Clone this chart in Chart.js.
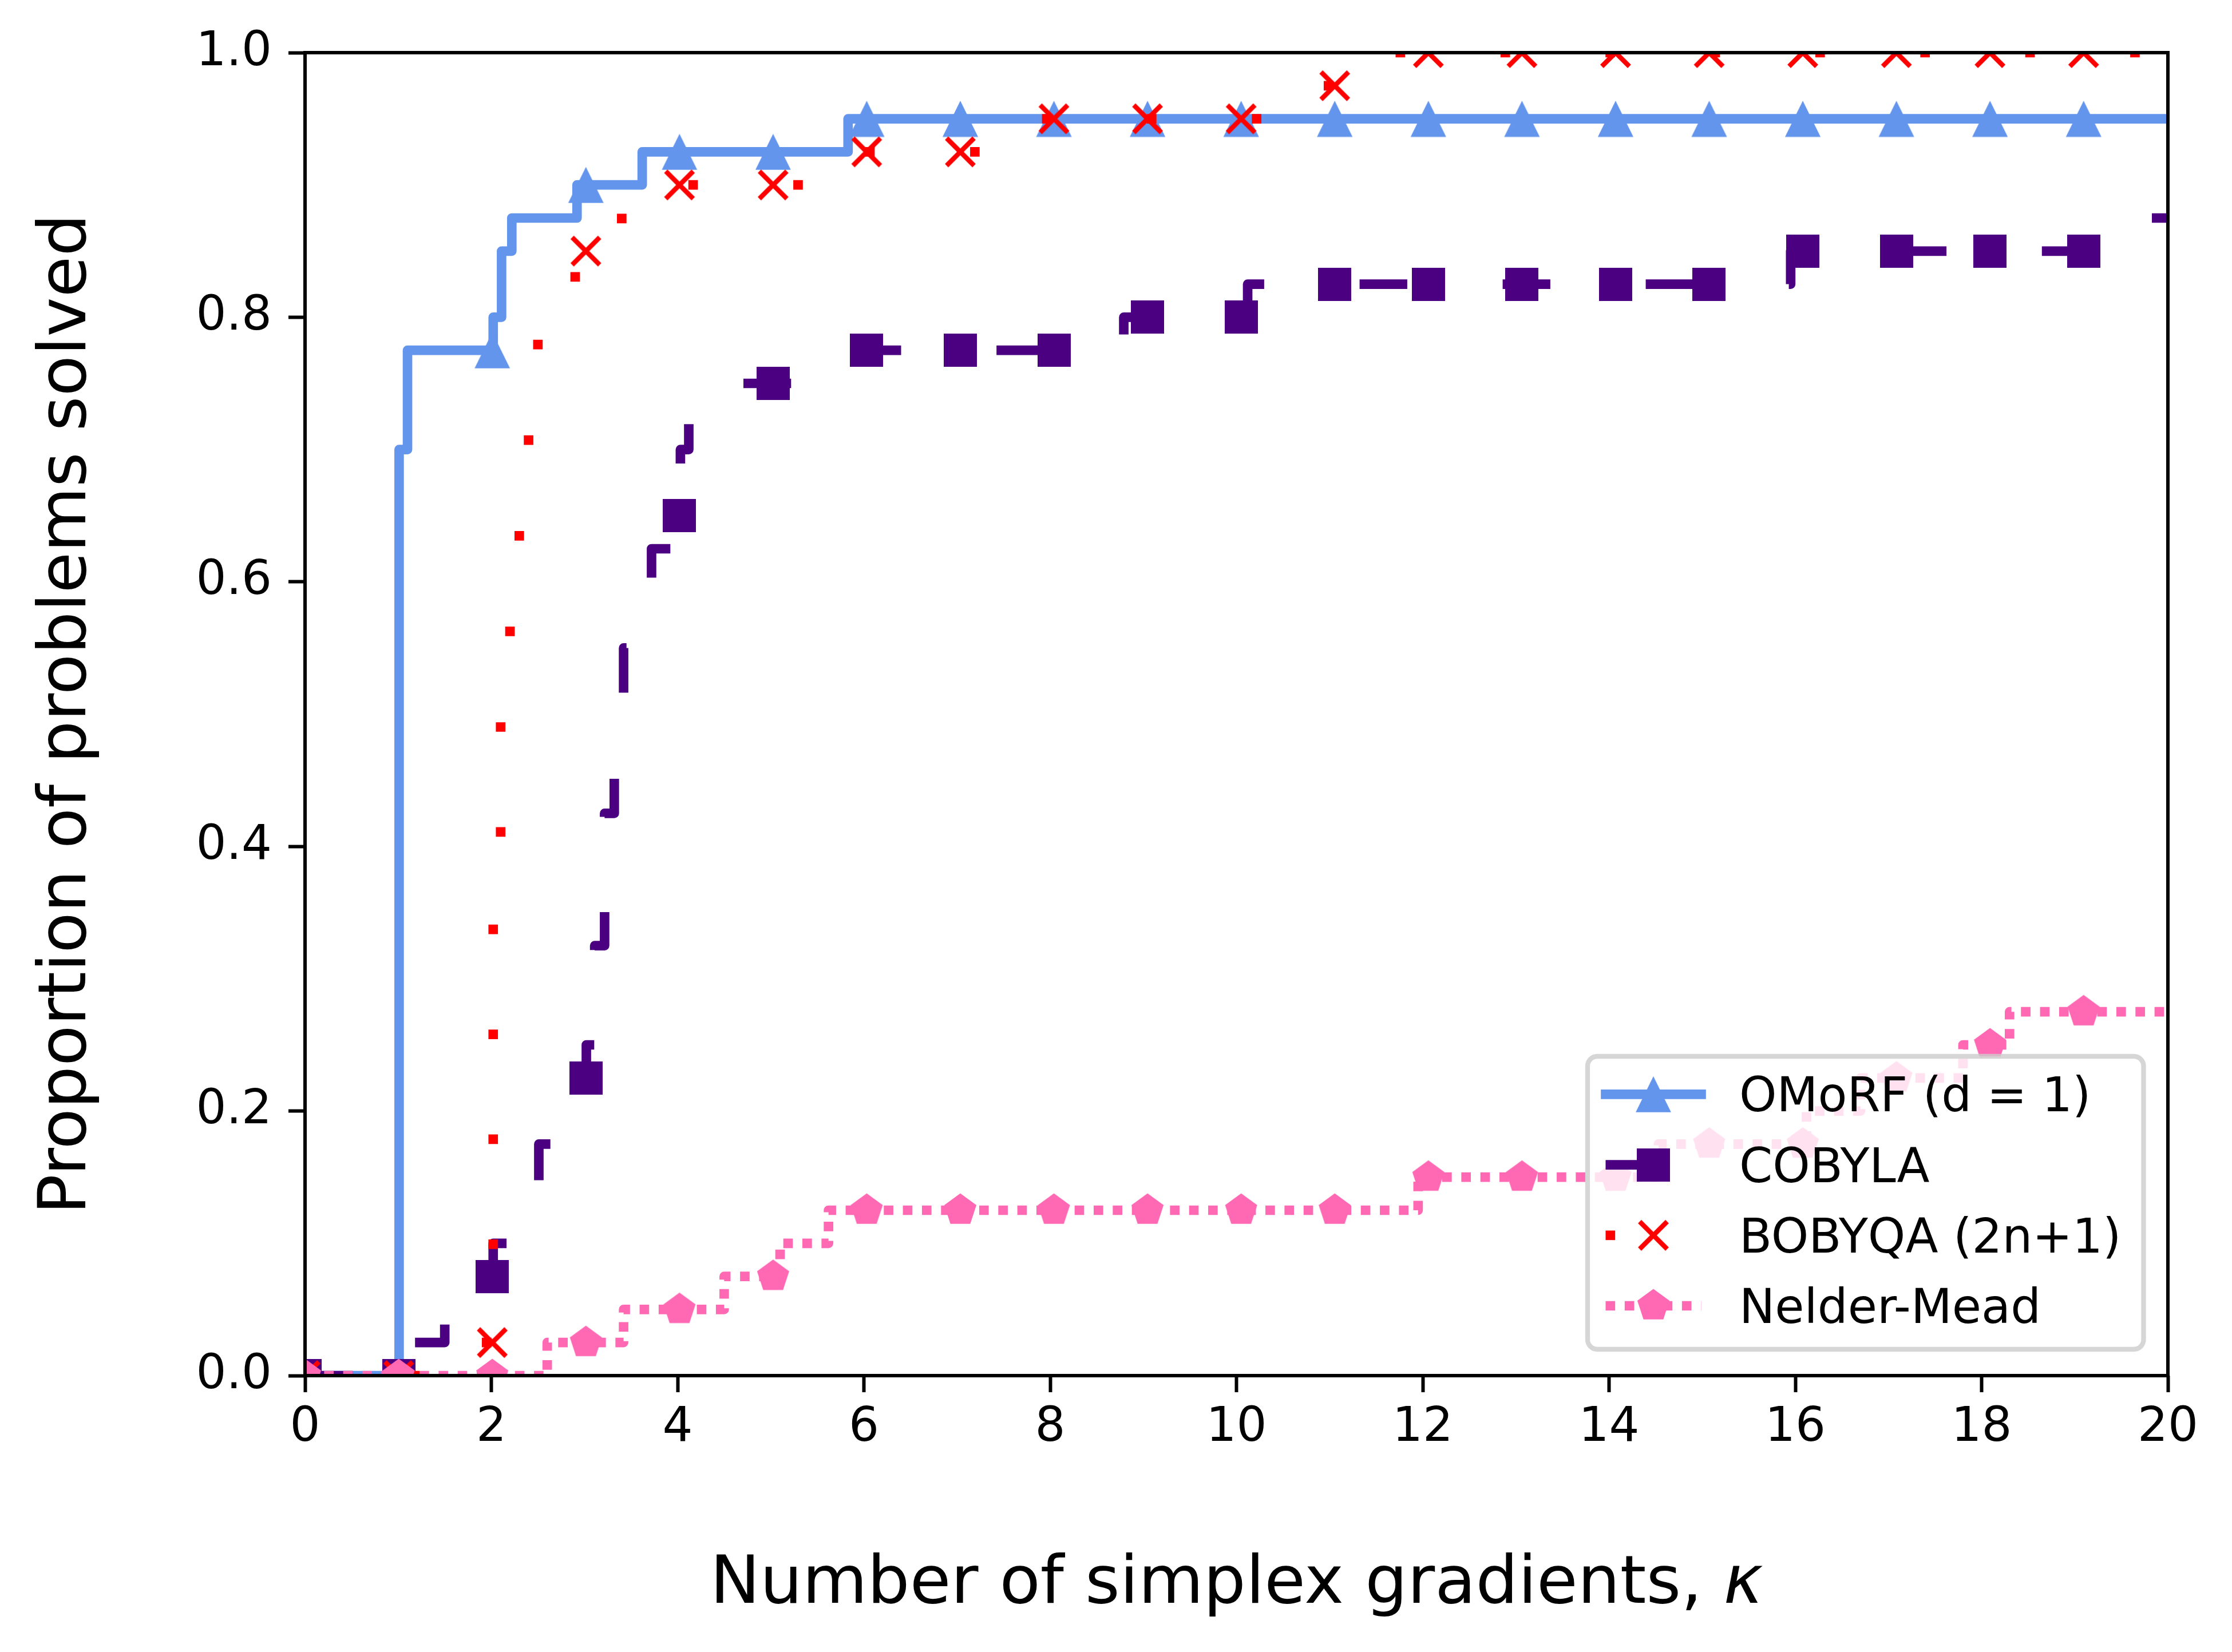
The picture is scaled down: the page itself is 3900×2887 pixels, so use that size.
<!DOCTYPE html>
<html>
<head>
<meta charset="utf-8">
<script src="https://cdn.jsdelivr.net/npm/chart.js@4.4.1/dist/chart.umd.min.js"></script>
<style>
  html, body { margin: 0; padding: 0; background: #fff; }
  #wrap { width: 3900px; height: 2887px; }
</style>
</head>
<body>
<div id="wrap"><canvas id="myChart" width="3900" height="2887"></canvas></div>
<script>
// kappa values where markers sit (measured: spacing is slightly above 1)
const kappaMarks = [0, 1.005, 2.01, 3.015, 4.02, 5.025, 6.03, 7.035, 8.04, 9.045,
                    10.05, 11.055, 12.06, 13.065, 14.07, 15.075, 16.08, 17.085, 18.09, 19.095];

// step breakpoints (value holds from x onward)
const omorfX = [0, 1.01, 1.1, 2.02, 2.11, 2.22, 2.92, 3.62, 5.83, 20];
const omorfY = [0, 0.7, 0.775, 0.8, 0.85, 0.875, 0.9, 0.925, 0.95, 0.95];
const omorfMarks = [0, 0, 0.775, 0.9, 0.925, 0.925, 0.95, 0.95, 0.95, 0.95,
                    0.95, 0.95, 0.95, 0.95, 0.95, 0.95, 0.95, 0.95, 0.95, 0.95];

const cobylaX = [0, 1.1, 1.5, 1.99, 2.02, 2.51, 2.8, 2.955, 3.02, 3.11, 3.216, 3.32, 3.42,
                 3.72, 3.98, 4.03, 4.12, 5.6, 8.79, 10.12, 15.95, 19.5, 20];
const cobylaY = [0, 0.025, 0.05, 0.075, 0.1, 0.175, 0.2, 0.225, 0.25, 0.325, 0.425, 0.5, 0.55,
                 0.625, 0.65, 0.7, 0.75, 0.775, 0.8, 0.825, 0.85, 0.875, 0.875];
const cobylaMarks = [0, 0, 0.075, 0.225, 0.65, 0.75, 0.775, 0.775, 0.775, 0.8,
                     0.8, 0.825, 0.825, 0.825, 0.825, 0.825, 0.85, 0.85, 0.85, 0.85];

const bobyqaX = [0, 1.6, 2.02, 2.1, 2.2, 2.3, 2.4, 2.5, 2.9, 3.4, 5.6, 7.5, 10.5, 11.3, 20];
const bobyqaY = [0, 0.025, 0.375, 0.5, 0.575, 0.65, 0.725, 0.8, 0.85, 0.9, 0.925, 0.95, 0.975, 1.0, 1.0];
const bobyqaMarks = [0, 0, 0.025, 0.85, 0.9, 0.9, 0.925, 0.925, 0.95, 0.95,
                     0.95, 0.975, 1, 1, 1, 1, 1, 1, 1, 1];

const nmX = [0, 2.6, 3.42, 4.5, 5.1, 5.62, 11.95, 14.53, 16.12, 16.7, 17.8, 18.3, 20];
const nmY = [0, 0.025, 0.05, 0.075, 0.1, 0.125, 0.15, 0.175, 0.2, 0.225, 0.25, 0.275, 0.275];
const nmMarks = [0, 0, 0, 0.025, 0.05, 0.075, 0.125, 0.125, 0.125, 0.125,
                 0.125, 0.125, 0.15, 0.15, 0.15, 0.175, 0.175, 0.225, 0.25, 0.275];

const seriesNames = ["OMoRF (d = 1)", "COBYLA", "BOBYQA (2n+1)", "Nelder-Mead"];

const LW = 16.67;
const FONT = '"DejaVu Sans", "Liberation Sans", sans-serif';
const styles = [
    { color: "#6495ED", dash: [], cap: "square", marker: "triangle" },
    { color: "#4B0082", dash: [83.3, 166.7], cap: "butt", marker: "square" },
    { color: "#FF0000", dash: [16.67, 166.7], cap: "butt", marker: "x" },
    { color: "#FF69B4", dash: [16.67, 16.67], cap: "butt", marker: "pentagon" },
];

function zip(xs, ys) {
    return xs.map((x, i) => ({ x: x, y: ys[i] }));
}

function markerCanvas(kind, color) {
    const c = document.createElement("canvas");
    const g = c.getContext("2d");
    if (kind === "triangle") {
        c.width = 64; c.height = 64;
        g.fillStyle = color;
        g.beginPath();
        g.moveTo(32, 0.5); g.lineTo(63, 63.5); g.lineTo(1, 63.5);
        g.closePath(); g.fill();
    } else if (kind === "square") {
        c.width = 58; c.height = 58;
        g.fillStyle = color;
        g.fillRect(0, 0, 58, 58);
    } else if (kind === "x") {
        c.width = 56; c.height = 56;
        g.strokeStyle = color;
        g.lineWidth = 8.3;
        g.lineCap = "butt";
        g.beginPath();
        g.moveTo(4, 4); g.lineTo(52, 52);
        g.moveTo(52, 4); g.lineTo(4, 52);
        g.stroke();
    } else {
        c.width = 60; c.height = 60;
        const R = 29.5;
        g.fillStyle = color;
        g.beginPath();
        for (let k = 0; k < 5; k++) {
            const a = -Math.PI / 2 + k * 2 * Math.PI / 5;
            const px = 30 + R * Math.cos(a), py = 30 + R * Math.sin(a);
            if (k === 0) g.moveTo(px, py); else g.lineTo(px, py);
        }
        g.closePath(); g.fill();
    }
    return c;
}

const markers = styles.map(s => markerCanvas(s.marker, s.color));
const stepData = [zip(omorfX, omorfY), zip(cobylaX, cobylaY), zip(bobyqaX, bobyqaY), zip(nmX, nmY)];
const markData = [omorfMarks, cobylaMarks, bobyqaMarks, nmMarks].map(m => zip(kappaMarks, m));

const datasets = [];
seriesNames.forEach((name, i) => {
    datasets.push({
        label: name,
        data: stepData[i],
        stepped: true,
        borderColor: styles[i].color,
        borderWidth: LW,
        borderDash: styles[i].dash,
        borderCapStyle: styles[i].cap,
        borderJoinStyle: "round",
        pointRadius: 0,
        fill: false,
        clip: 0,
        order: 8 - 2 * i,
    });
    datasets.push({
        label: name + " markers",
        data: markData[i],
        showLine: false,
        pointStyle: markers[i],
        pointRadius: 30,
        backgroundColor: styles[i].color,
        borderColor: styles[i].color,
        clip: 0,
        order: 7 - 2 * i,
    });
});

function roundRectPath(g, x, y, w, h, r) {
    g.beginPath();
    g.moveTo(x + r, y);
    g.arcTo(x + w, y, x + w, y + h, r);
    g.arcTo(x + w, y + h, x, y + h, r);
    g.arcTo(x, y + h, x, y, r);
    g.arcTo(x, y, x + w, y, r);
    g.closePath();
}

const decorPlugin = {
    id: "decor",
    afterDatasetsDraw(chart) {
        const g = chart.ctx;
        const a = chart.chartArea;
        g.save();
        // axes frame
        g.setLineDash([]);
        g.strokeStyle = "#000";
        g.lineWidth = 6;
        g.lineJoin = "miter";
        g.strokeRect(a.left, a.top, a.right - a.left, a.bottom - a.top);

        // legend box, lower right
        const bw = 971.5, bh = 512;
        const L = a.right - 42.5 - bw;
        const T = a.bottom - 46 - bh;
        roundRectPath(g, L, T, bw, bh, 17);
        g.fillStyle = "rgba(255,255,255,0.8)";
        g.fill();
        g.lineWidth = 8.3;
        g.strokeStyle = "rgba(204,204,204,0.8)";
        g.stroke();

        seriesNames.forEach((name, i) => {
            const y = T + 66.4 + i * 123.2;
            const s = styles[i];
            g.beginPath();
            g.setLineDash(s.dash);
            g.lineDashOffset = 0;
            g.lineCap = s.cap;
            g.strokeStyle = s.color;
            g.lineWidth = LW;
            g.moveTo(L + 31.5, y);
            g.lineTo(L + 198.5, y);
            g.stroke();
            g.setLineDash([]);
            const m = markers[i];
            g.drawImage(m, L + 115 - m.width / 2, y - m.height / 2);
            g.fillStyle = "#000";
            g.font = "83.33px " + FONT;
            g.textAlign = "left";
            g.textBaseline = "alphabetic";
            g.fillText(name, L + 265, y + 30);
        });

        // axis titles
        g.fillStyle = "#000";
        const big = 116.67;
        const partA = "Number of simplex gradients, ";
        const partB = "\u03BA";
        g.font = big + "px " + FONT;
        const wA = g.measureText(partA).width;
        g.font = "italic " + big + "px " + FONT;
        const wB = g.measureText(partB).width;
        const cx = (a.left + a.right) / 2;
        const by = a.bottom + 397;
        g.textAlign = "left";
        g.textBaseline = "alphabetic";
        g.font = big + "px " + FONT;
        g.fillText(partA, cx - (wA + wB) / 2, by);
        g.font = "italic " + big + "px " + FONT;
        g.fillText(partB, cx - (wA + wB) / 2 + wA, by);

        g.translate(a.left - 384, (a.top + a.bottom) / 2);
        g.rotate(-Math.PI / 2);
        g.font = big + "px " + FONT;
        g.textAlign = "center";
        g.fillText("Proportion of problems solved", 0, 0);
        g.restore();
    },
};

const tickFont = { family: FONT, size: 83.33, lineHeight: 1.2 };

new Chart(document.getElementById("myChart").getContext("2d"), {
    type: "line",
    data: { datasets: datasets },
    options: {
        responsive: false,
        maintainAspectRatio: false,
        devicePixelRatio: 1,
        animation: false,
        events: [],
        layout: { padding: { left: 0, right: 112, top: 92, bottom: 0 } },
        plugins: {
            legend: { display: false },
            tooltip: { enabled: false },
        },
        scales: {
            x: {
                type: "linear",
                min: 0,
                max: 20,
                afterFit: (scale) => { scale.height = 483; },
                border: { display: false },
                grid: {
                    drawOnChartArea: false,
                    drawTicks: true,
                    tickLength: 29,
                    tickWidth: 6,
                    tickColor: "#000",
                },
                ticks: {
                    stepSize: 2,
                    color: "#000",
                    font: tickFont,
                    padding: 13,
                    maxRotation: 0,
                    autoSkip: false,
                },
            },
            y: {
                type: "linear",
                min: 0,
                max: 1,
                afterFit: (scale) => { scale.width = 533; },
                border: { display: false },
                grid: {
                    drawOnChartArea: false,
                    drawTicks: true,
                    tickLength: 29,
                    tickWidth: 6,
                    tickColor: "#000",
                },
                ticks: {
                    stepSize: 0.2,
                    color: "#000",
                    font: tickFont,
                    padding: 29,
                    callback: (v) => Number(v).toFixed(1),
                },
            },
        },
    },
    plugins: [decorPlugin],
});
</script>
</body>
</html>
